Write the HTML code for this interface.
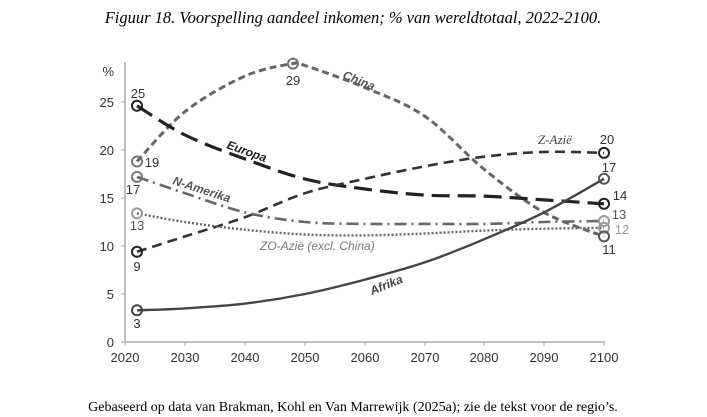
<!DOCTYPE html>
<html><head><meta charset="utf-8"><style>
body{margin:0;background:#fff;width:707px;height:417px;overflow:hidden}
svg{display:block}
</style></head><body>
<svg id="s" width="707" height="417" viewBox="0 0 707 417" font-family="Liberation Sans, sans-serif">
<text x="353" y="23" text-anchor="middle" font-family="Liberation Serif, serif" font-style="italic" font-size="16.5">Figuur 18. Voorspelling aandeel inkomen; % van wereldtotaal, 2022-2100.</text>
<text x="353" y="411" text-anchor="middle" font-family="Liberation Serif, serif" font-size="14">Gebaseerd op data van Brakman, Kohl en Van Marrewijk (2025a); zie de tekst voor de regio’s.</text>
<g stroke="#aaa" stroke-width="1.5">
<line x1="125" y1="62" x2="125" y2="342"/>
<line x1="125" y1="342" x2="605" y2="342"/>
</g>
<g stroke="#aaa" stroke-width="1" id="ticks"></g>
<g font-size="13" fill="#333" text-anchor="end">
<text x="114" y="76">%</text>
<text x="114" y="107">25</text><text x="114" y="155">20</text><text x="114" y="203">15</text>
<text x="114" y="251">10</text><text x="114" y="299">5</text><text x="114" y="347">0</text>
</g>
<g font-size="13" fill="#333" text-anchor="middle">
<text x="125" y="362">2020</text><text x="185" y="362">2030</text><text x="245" y="362">2040</text>
<text x="305" y="362">2050</text><text x="365" y="362">2060</text><text x="425" y="362">2070</text>
<text x="484" y="362">2080</text><text x="544" y="362">2090</text><text x="604" y="362">2100</text>
</g>
<g id="lines" fill="none"></g>
<g font-size="12" font-style="italic" font-weight="bold" fill="#333">
<text x="342" y="78" transform="rotate(22 342 78)" fill="#555">China</text>
<text x="226" y="148" transform="rotate(20 226 148)" fill="#222">Europa</text>
<text x="172" y="184" transform="rotate(18 172 184)" fill="#555">N-Amerika</text>
<text x="372" y="295" transform="rotate(-22 372 295)" fill="#444">Afrika</text>
</g>
<g font-size="12" font-style="italic" fill="#444">
<text x="538" y="144" font-family="Liberation Serif, serif" font-size="13">Z-Azië</text>
<text x="260" y="250" fill="#777">ZO-Azië (excl. China)</text>
</g>
<g font-size="13" fill="#333" text-anchor="middle">
<text x="138" y="98">25</text><text x="152" y="167">19</text><text x="133" y="194">17</text>
<text x="137" y="230" fill="#555">13</text><text x="137" y="271">9</text><text x="137" y="328">3</text>
<text x="293" y="85">29</text>
<text x="607" y="144">20</text><text x="609" y="172">17</text><text x="620" y="200">14</text>
<text x="619" y="219" fill="#555">13</text><text x="622" y="234" fill="#999">12</text><text x="609" y="254">11</text>
</g>
<g id="marks" fill="none" stroke-width="2"></g>
</svg>
<script>
const X=[137,185,245,305,365,425,484,544,604];
function path(xs,ys){let p=[];for(let i=0;i<xs.length;i++)p.push([xs[i],ys[i]]);
let d="M"+p[0];for(let i=0;i<p.length-1;i++){const a=p[i-1]||p[i],b=p[i],c=p[i+1],e=p[i+2]||c;
d+=" C"+(b[0]+(c[0]-a[0])/6)+","+(b[1]+(c[1]-a[1])/6)+" "+(c[0]-(e[0]-b[0])/6)+","+(c[1]-(e[1]-b[1])/6)+" "+c[0]+","+c[1];}return d;}
const L=[
[[137,185,245,293,305,365,425,484,544,604],[161.5,111.6,76.1,63.6,65.5,87.6,116.4,169.2,212.4,236.4],"#666",3,"7 4"],
[X,[105.8,135,159,179,189,195.1,196.1,199.9,203.8],"#222",3.2,"18 8"],
[X,[251.8,236.4,217.2,193.2,178.8,166.3,156.7,151.9,152.9],"#333",2.6,"10 6"],
[X,[176.9,193.2,212.4,222,223.9,223.9,223.9,222,221],"#666",2.6,"12 5 2 5"],
[X,[213.4,222,229.7,234.5,235.4,233.5,230.6,228.7,227.8],"#666",2.4,"2 2"],
[X,[310.3,308.4,303.6,294,279.6,262.3,239.3,212.4,178.8],"#444",2.4,""]];
let g=document.getElementById("lines"),h="";
for(const l of L)h+=`<path d="${path(l[0],l[1])}" stroke="${l[2]}" stroke-width="${l[3]}" stroke-dasharray="${l[4]}"/>`;
g.innerHTML=h;
const M=[[137,105.8,"#222"],[137,161.5,"#777"],[137,176.9,"#777"],[137,213.4,"#999"],[137,251.8,"#222"],[137,310.3,"#444"],[293,63.6,"#777"],
[604,152.9,"#222"],[604,178.8,"#555"],[604,203.8,"#222"],[604,221,"#999"],[604,227.8,"#999"],[604,236.4,"#555"]];
document.getElementById("marks").innerHTML=M.map(m=>`<circle cx="${m[0]}" cy="${m[1]}" r="5" stroke="${m[2]}"/>`).join("");
let t="";for(const x of [125,185,245,305,365,425,484,544,604])t+=`<line x1="${x}" y1="342" x2="${x}" y2="346"/>`;
for(let y=102;y<=342;y+=48)t+=`<line x1="121" y1="${y}" x2="125" y2="${y}"/>`;
document.getElementById("ticks").innerHTML=t;
</script>
</body></html>
